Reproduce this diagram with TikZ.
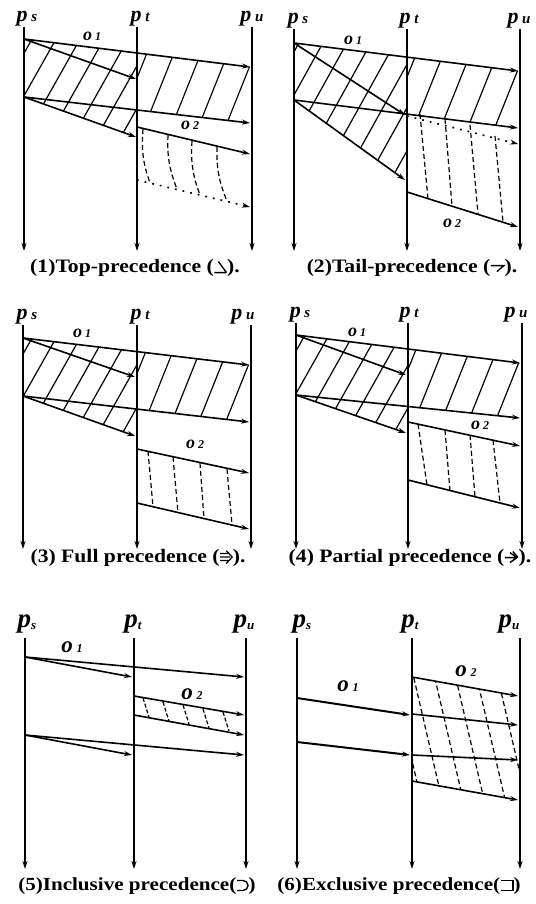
\documentclass[tikz,border=0pt]{standalone}
\usepackage{fontspec}
\setmainfont{Liberation Serif}
\newfontfamily\capfont[FakeStretch=1.14]{Liberation Serif}
\usetikzlibrary{arrows.meta}
\tikzset{
  proc/.style={-{Stealth[length=8pt,width=5pt]}, line width=1.5pt},
  msg/.style={-{Stealth[length=8pt,width=5pt]}, line width=1.6pt},
  dotmsg/.style={msg, dash pattern=on 1.8pt off 6pt},
  hatchline/.style={line width=1.2pt},
  hatchdash/.style={line width=1.2pt, dash pattern=on 5pt off 3pt},
  plabel/.style={anchor=south, inner sep=1pt, font=\fontsize{22}{22}\selectfont\bfseries\itshape},
  plabelb/.style={anchor=south, inner sep=1pt, font=\fontsize{27}{27}\selectfont\bfseries\itshape},
  olabel/.style={inner sep=0pt, font=\fontsize{18}{18}\selectfont\bfseries\itshape},
  olabelb/.style={inner sep=0pt, font=\fontsize{23}{23}\selectfont\bfseries\itshape},
  capt/.style={inner sep=0pt, font={\capfont\bfseries\fontsize{19}{19}\selectfont}},
  captb/.style={inner sep=0pt, font={\capfont\bfseries\fontsize{18.5}{18.5}\selectfont}}
}
\newcommand{\pname}[2]{#1\,{\fontsize{15}{15}\selectfont #2}}
\newcommand{\pnameb}[2]{#1\raisebox{-2pt}{\fontsize{13}{13}\selectfont #2}}
\newcommand{\oname}[2]{#1\,{\fontsize{12}{12}\selectfont #2}}
% caption symbols
\newcommand{\symtop}{\tikz[x=1pt,y=1pt,baseline=0pt,line width=1.4pt]{\draw (0,0)--(12,0) (4,11)--(12,0);}}
\newcommand{\symtail}{\tikz[x=1pt,y=1pt,baseline=0pt,line width=1.4pt]{\draw (0,7)--(13,7)--(6,1);}}
\newcommand{\symfull}{\tikz[x=1pt,y=1pt,baseline=0pt,line width=1.2pt]{\draw (0,2)--(9,2) (0,5.5)--(10,5.5) (0,9)--(9,9) (6,12)--(12,5.5)--(6,-1);}}
\newcommand{\sympart}{\tikz[x=1pt,y=1pt,baseline=0pt,line width=1.4pt]{\draw (0,5)--(12,5) (5,10)--(12,5)--(5,0) (8,11)--(13,5);}}
\newcommand{\symincl}{\tikz[x=1pt,y=1pt,baseline=0pt,line width=1.4pt]{\draw (0,10)--(6,10) arc[start angle=90,end angle=-90,radius=5] -- (0,0);}}
\newcommand{\symexcl}{\tikz[x=1pt,y=1pt,baseline=0pt,line width=1.4pt]{\draw (0,10)--(12,10)--(12,0)--(0,0);}}

\begin{document}
\begin{tikzpicture}[x=1pt, y=-1pt]
  \useasboundingbox (0,0) rectangle (535,904);

  % (1) top-precedence
  \node[plabel] (ps1) at (27,27) {\pname{p}{s}};
  \node[plabel] (pt1) at (140,27) {\pname{p}{t}};
  \node[plabel] (pu1) at (252,27) {\pname{p}{u}};
  \coordinate (ps1b) at (24,251);
  \coordinate (pt1b) at (137,251);
  \coordinate (pu1b) at (252,251);
  \draw[proc] (ps1b |- 0,27) -- (ps1b);
  \draw[proc] (pt1b |- 0,27) -- (pt1b);
  \draw[proc] (pu1b |- 0,27) -- (pu1b);
  \coordinate (s1a) at (24,39);
  \coordinate (s1c) at (24,97);
  \coordinate (t1b) at (136,79);
  \coordinate (t1d) at (136,137);
  \coordinate (t1e) at (137,127);
  \coordinate (t1f) at (137,180);
  \coordinate (u1a) at (250,67);
  \coordinate (u1c) at (250,123);
  \coordinate (u1e) at (250,154);
  \coordinate (u1f) at (250,207);
  \begin{scope}
    \clip (24,39) -- (137,53) -- (137,137) -- (24,97) -- cycle;
    \foreach \x in {-50,-26,...,140}
      \draw[hatchline] (\x,142) -- ++(62,-110);
  \end{scope}
  \begin{scope}
    \clip (137,53) -- (252,67) -- (252,123) -- (137,110) -- cycle;
    \foreach \x in {117,144,...,252}
      \draw[hatchline] (\x,128) -- ++(32,-80);
  \end{scope}
  \draw[msg] (s1a) -- (u1a);
  \draw[msg] (s1a) -- (t1b);
  \draw[msg] (s1c) -- (u1c);
  \draw[msg] (s1c) -- (t1d);
  \draw[msg] (t1e) -- (u1e);
  \draw[dotmsg] (t1f) -- (u1f);
  \draw[hatchdash] (143,129) to[bend right=12] (150,183);
  \draw[hatchdash] (168,135) to[bend right=12] (177,189);
  \draw[hatchdash] (192,141) to[bend right=12] (200,195);
  \draw[hatchdash] (217,147) to[bend right=12] (227,201);
  \node[olabel] (o11) at (92,36) {\oname{o}{1}};
  \node[olabel] (o12) at (190,125) {\oname{o}{2}};
  \node[capt] (cap1) at (135,268) {(1)Top-precedence (\symtop).};

  % (2) tail-precedence
  \node[plabel] (ps2) at (298,29) {\pname{p}{s}};
  \node[plabel] (pt2) at (409,29) {\pname{p}{t}};
  \node[plabel] (pu2) at (519,29) {\pname{p}{u}};
  \coordinate (ps2b) at (294,251);
  \coordinate (pt2b) at (407,251);
  \coordinate (pu2b) at (520,251);
  \draw[proc] (ps2b |- 0,29) -- (ps2b);
  \draw[proc] (pt2b |- 0,29) -- (pt2b);
  \draw[proc] (pu2b |- 0,29) -- (pu2b);
  \coordinate (s2a) at (294,43);
  \coordinate (s2c) at (294,100);
  \coordinate (t2b) at (405,115);
  \coordinate (t2d) at (405,180);
  \coordinate (t2e) at (407,116);
  \coordinate (t2f) at (407,192);
  \coordinate (u2a) at (518,71);
  \coordinate (u2c) at (518,128);
  \coordinate (u2e) at (518,144);
  \coordinate (u2f) at (518,227);
  \begin{scope}
    \clip (294,43) -- (407,57) -- (407,180) -- (294,100) -- cycle;
    \foreach \x in {-50,-26,...,150}
      \draw[hatchline] (\x+270,185) -- ++(80,-144);
  \end{scope}
  \begin{scope}
    \clip (407,57) -- (520,71) -- (520,128) -- (407,114) -- cycle;
    \foreach \x in {385,412,...,520}
      \draw[hatchline] (\x,132) -- ++(32,-80);
  \end{scope}
  \draw[msg] (s2a) -- (u2a);
  \draw[msg] (s2a) -- (t2b);
  \draw[msg] (s2c) -- (u2c);
  \draw[msg] (s2c) -- (t2d);
  \draw[dotmsg] (t2e) -- (u2e);
  \draw[msg] (t2f) -- (u2f);
  \draw[hatchdash] (420,114) -- (428,199);
  \draw[hatchdash] (445,119) -- (452,206);
  \draw[hatchdash] (470,125) -- (478,214);
  \draw[hatchdash] (495,136) -- (503,222);
  \node[olabel] (o21) at (353,40) {\oname{o}{1}};
  \node[olabel] (o22) at (452,223) {\oname{o}{2}};
  \node[capt] (cap2) at (412,268) {(2)Tail-precedence (\symtail).};

  % (3) full precedence
  \node[plabel] (ps3) at (27,325) {\pname{p}{s}};
  \node[plabel] (pt3) at (140,325) {\pname{p}{t}};
  \node[plabel] (pu3) at (243,325) {\pname{p}{u}};
  \coordinate (ps3b) at (23,549);
  \coordinate (pt3b) at (137,549);
  \coordinate (pu3b) at (251,549);
  \draw[proc] (ps3b |- 0,325) -- (ps3b);
  \draw[proc] (pt3b |- 0,325) -- (pt3b);
  \draw[proc] (pu3b |- 0,325) -- (pu3b);
  \coordinate (s3a) at (23,338);
  \coordinate (s3c) at (23,396);
  \coordinate (t3b) at (135,377);
  \coordinate (t3d) at (135,436);
  \coordinate (t3e) at (137,449);
  \coordinate (t3f) at (137,503);
  \coordinate (u3a) at (249,365);
  \coordinate (u3c) at (249,422);
  \coordinate (u3e) at (249,473);
  \coordinate (u3f) at (249,529);
  \begin{scope}
    \clip (23,338) -- (137,352) -- (137,436) -- (23,396) -- cycle;
    \foreach \x in {-50,-26,...,140}
      \draw[hatchline] (\x,441) -- ++(62,-110);
  \end{scope}
  \begin{scope}
    \clip (137,352) -- (251,365) -- (251,422) -- (137,409) -- cycle;
    \foreach \x in {116,143,...,251}
      \draw[hatchline] (\x,426) -- ++(32,-80);
  \end{scope}
  \draw[msg] (s3a) -- (u3a);
  \draw[msg] (s3a) -- (t3b);
  \draw[msg] (s3c) -- (u3c);
  \draw[msg] (s3c) -- (t3d);
  \draw[msg] (t3e) -- (u3e);
  \draw[msg] (t3f) -- (u3f);
  \draw[hatchdash] (148,451) -- (153,507);
  \draw[hatchdash] (173,457) -- (178,513);
  \draw[hatchdash] (200,463) -- (204,519);
  \draw[hatchdash] (227,469) -- (232,525);
  \node[olabel] (o31) at (82,333) {\oname{o}{1}};
  \node[olabel] (o32) at (195,444) {\oname{o}{2}};
  \node[capt] (cap3) at (138,558) {(3) Full precedence (\symfull).};

  % (4) partial precedence
  \node[plabel] (ps4) at (300,323) {\pname{p}{s}};
  \node[plabel] (pt4) at (409,323) {\pname{p}{t}};
  \node[plabel] (pu4) at (516,323) {\pname{p}{u}};
  \coordinate (ps4b) at (296,549);
  \coordinate (pt4b) at (408,549);
  \coordinate (pu4b) at (522,549);
  \draw[proc] (ps4b |- 0,323) -- (ps4b);
  \draw[proc] (pt4b |- 0,323) -- (pt4b);
  \draw[proc] (pu4b |- 0,323) -- (pu4b);
  \coordinate (s4a) at (296,335);
  \coordinate (s4c) at (296,395);
  \coordinate (t4b) at (406,375);
  \coordinate (t4d) at (406,433);
  \coordinate (t4e) at (408,422);
  \coordinate (t4f) at (408,480);
  \coordinate (u4a) at (520,363);
  \coordinate (u4c) at (520,418);
  \coordinate (u4e) at (520,446);
  \coordinate (u4f) at (520,508);
  \begin{scope}
    \clip (296,335) -- (408,350) -- (408,433) -- (296,395) -- cycle;
    \foreach \x in {-50,-26,...,140}
      \draw[hatchline] (\x+273,438) -- ++(62,-110);
  \end{scope}
  \begin{scope}
    \clip (408,350) -- (522,363) -- (522,418) -- (408,407) -- cycle;
    \foreach \x in {387,414,...,522}
      \draw[hatchline] (\x,422) -- ++(32,-80);
  \end{scope}
  \draw[msg] (s4a) -- (u4a);
  \draw[msg] (s4a) -- (t4b);
  \draw[msg] (s4c) -- (u4c);
  \draw[msg] (s4c) -- (t4d);
  \draw[msg] (t4e) -- (u4e);
  \draw[msg] (t4f) -- (u4f);
  \draw[hatchdash] (418,424) -- (427,485);
  \draw[hatchdash] (445,430) -- (450,491);
  \draw[hatchdash] (470,435) -- (475,497);
  \draw[hatchdash] (493,440) -- (500,503);
  \node[olabel] (o41) at (357,332) {\oname{o}{1}};
  \node[olabel] (o42) at (480,425) {\oname{o}{2}};
  \node[capt] (cap4) at (410,558) {(4) Partial precedence (\sympart).};

  % (5) inclusive precedence
  \node[plabelb] (ps5) at (27,634) {\pnameb{p}{s}};
  \node[plabelb] (pt5) at (133,634) {\pnameb{p}{t}};
  \node[plabelb] (pu5) at (244,634) {\pnameb{p}{u}};
  \coordinate (ps5b) at (25,869);
  \coordinate (pt5b) at (134,869);
  \coordinate (pu5b) at (246,869);
  \draw[proc] (ps5b |- 0,638) -- (ps5b);
  \draw[proc] (pt5b |- 0,638) -- (pt5b);
  \draw[proc] (pu5b |- 0,638) -- (pu5b);
  \coordinate (s5a) at (25,657);
  \coordinate (s5c) at (25,735);
  \coordinate (t5b) at (132,677);
  \coordinate (t5d) at (132,755);
  \coordinate (t5e) at (134,696);
  \coordinate (t5f) at (134,715);
  \coordinate (u5a) at (244,677);
  \coordinate (u5c) at (244,755);
  \coordinate (u5e) at (244,715);
  \coordinate (u5f) at (244,735);
  \draw[msg] (s5a) -- (u5a);
  \draw[msg] (s5a) -- (t5b);
  \draw[msg] (s5c) -- (u5c);
  \draw[msg] (s5c) -- (t5d);
  \draw[msg] (t5e) -- (u5e);
  \draw[msg] (t5f) -- (u5f);
  \foreach \x/\y in {143/698, 163/702, 183/705, 203/709, 223/712}
    \draw[hatchdash, dash pattern=on 4pt off 2pt] (\x,\y) -- ++(6,19);
  \node[olabelb] (o51) at (72,647) {\oname{o}{1}};
  \node[olabelb] (o52) at (192,694) {\oname{o}{2}};
  \node[captb] (cap5) at (137,886) {(5)Inclusive precedence(\symincl)};

  % (6) exclusive precedence
  \node[plabelb] (ps6) at (302,634) {\pnameb{p}{s}};
  \node[plabelb] (pt6) at (410,634) {\pnameb{p}{t}};
  \node[plabelb] (pu6) at (509,634) {\pnameb{p}{u}};
  \coordinate (ps6b) at (297,869);
  \coordinate (pt6b) at (412,869);
  \coordinate (pu6b) at (520,869);
  \draw[proc] (ps6b |- 0,638) -- (ps6b);
  \draw[proc] (pt6b |- 0,638) -- (pt6b);
  \draw[proc] (pu6b |- 0,638) -- (pu6b);
  \coordinate (s6a) at (297,698);
  \coordinate (s6c) at (297,742);
  \coordinate (t6a) at (410,715);
  \coordinate (t6c) at (410,755);
  \coordinate (t6b) at (412,714);
  \coordinate (t6d) at (412,755);
  \coordinate (t6e) at (412,677);
  \coordinate (t6f) at (412,781);
  \coordinate (u6b) at (518,725);
  \coordinate (u6d) at (518,760);
  \coordinate (u6e) at (518,696);
  \coordinate (u6f) at (518,800);
  \begin{scope}
    \clip (412,677) -- (520,696) -- (520,800) -- (412,781) -- cycle;
    \foreach \x in {370,391,...,520}
      \draw[hatchdash] (\x,670) -- ++(32,138);
  \end{scope}
  \draw[msg, line width=2pt] (s6a) -- (t6a);
  \draw[msg] (t6b) -- (u6b);
  \draw[msg, line width=2pt] (s6c) -- (t6c);
  \draw[msg] (t6d) -- (u6d);
  \draw[msg] (t6e) -- (u6e);
  \draw[msg] (t6f) -- (u6f);
  \node[olabelb] (o61) at (348,686) {\oname{o}{1}};
  \node[olabelb] (o62) at (466,671) {\oname{o}{2}};
  \node[captb] (cap6) at (399,886) {(6)Exclusive precedence(\symexcl)};
\end{tikzpicture}
\end{document}
